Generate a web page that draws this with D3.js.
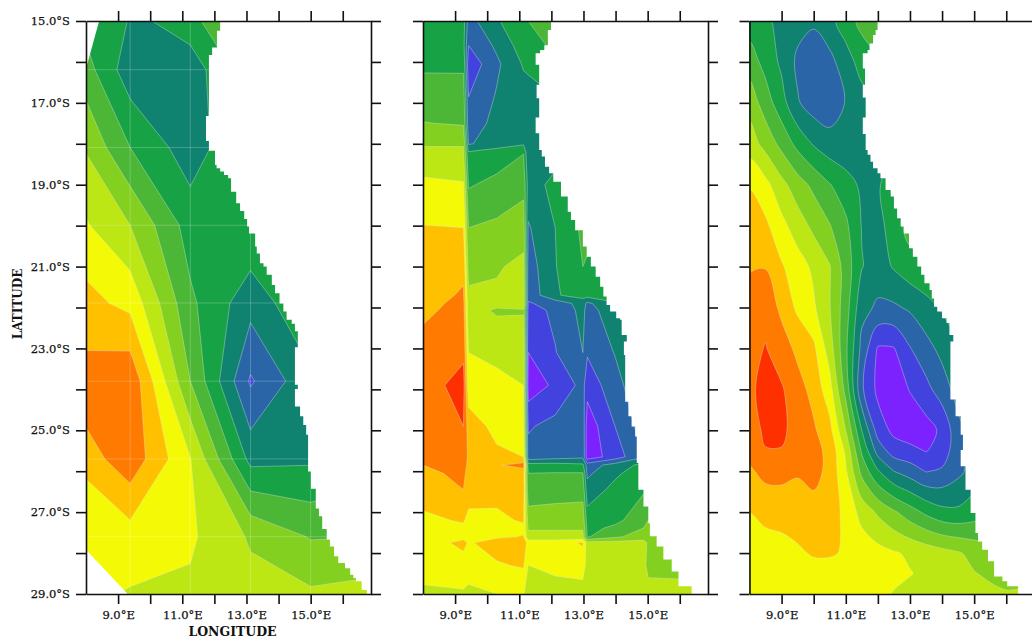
<!DOCTYPE html>
<html>
<head>
<meta charset="utf-8">
<style>
  html, body { margin: 0; padding: 0; background: #fff; overflow: hidden; }
  text { font-family: "DejaVu Serif", serif; fill: #111; }
</style>
<script src="https://d3js.org/d3.v7.min.js"></script>
</head>
<body>
<script>
// contour bands, coolest first
var levels = [0, 1, 2, 3, 4, 5, 6, 7, 8, 9, 10, 11];
var bandColors = ['#7b22ff', '#4242de', '#2a65a8', '#108270', '#18a246', '#4cb636',
  '#84d020', '#bce614', '#f4fa06', '#ffc000', '#ff7a00', '#ff3000'];

var lonTicks = [9, 10, 11, 12, 13, 14, 15, 16];
var lonLabels = [9, 11, 13, 15];
var latTicks = [15, 16, 17, 18, 19, 20, 21, 22, 23, 24, 25, 26, 27, 28, 29];
var latLabels = [15, 17, 19, 21, 23, 25, 27, 29];

// left panel, coarse grid
var lons1 = [7.5, 9.375, 11.25, 13.125, 15, 16.875];
var lats1 = [14.28, 16.19, 18.09, 19.99, 21.89, 23.8, 25.7, 27.6, 29.5];
var grid1 = [
  [5.0, 4.15, 5.3, 6.2, 6.0, 6],
  [6.13, 3.4, 3.4, 5.7, 5.5, 5.5],
  [7.52, 5.0, 3.45, 5.1, 4.8, 5],
  [8.5, 7.0, 4.55, 4.87, 4.7, 5],
  [9.51, 8.72, 5.2, 3.38, 4.9, 5],
  [10.32, 10.8, 6.0, 1.87, 3.8, 4.5],
  [9.07, 10.67, 8.05, 3.68, 3.83, 4.5],
  [8.04, 8.54, 8.16, 6.88, 5.93, 6],
  [8.1, 7.7, 7.7, 7.5, 7.6, 7.9]
];
var coastLats1 = [15, 15.24, 15.65, 15.83, 17.32, 17.93, 18.17, 18.52, 18.6, 18.68, 18.76, 18.84, 19.17, 19.45, 19.64, 19.84, 20.02, 20.19, 20.51, 20.68, 20.92, 21, 21.2, 21.45, 21.65, 21.9, 22.1, 22.3, 22.4, 22.58, 22.97, 23.89, 23.99, 24.42, 24.66, 24.87, 25.11, 26.01, 26.43, 26.91, 27.1, 27.41, 27.67, 27.84, 28.08, 28.24, 28.37, 28.53, 28.61, 28.69, 28.9, 29];
var coastLons1 = [12.18, 12.08, 11.93, 11.83, 11.74, 11.83, 12.02, 12.07, 12.18, 12.3, 12.43, 12.52, 12.68, 12.8, 12.93, 13.02, 13.08, 13.27, 13.32, 13.42, 13.53, 13.63, 13.79, 13.89, 14.03, 14.15, 14.25, 14.41, 14.51, 14.6, 14.51, 14.6, 14.51, 14.67, 14.77, 14.86, 14.92, 15.01, 15.16, 15.26, 15.36, 15.5, 15.6, 15.73, 15.86, 16.07, 16.23, 16.33, 16.41, 16.59, 16.75, 16.75];
// corners with no data in the left panel
var gapLons = [[8, 8.41, 8], [8, 9.3, 8]];
var gapLats = [[15, 15, 16.16], [27.92, 29, 29]];

// middle panel, tiles with sharp jumps between columns
var lons2 = [7.88, 9.26, 9.42, 10.3, 11.13, 11.28, 12.12, 12.98, 13.12, 13.98, 14.87, 15.02, 16.94];
var lats2 = [15, 15.6, 16.05, 16.85, 17.5, 18, 18.2, 19, 20.05, 21, 21.7, 21.9, 22.07, 23.1, 23.9, 24.9, 25.65, 25.85, 26.05, 26.45, 27.2, 27.39, 27.6, 27.75, 28.3, 29];
var grid2 = [
  [4.6, 4.4, 2.6, 3.9, 4.7, 5.0, 5.8, 6, 6, 6, 6, 6, 6],
  [4.5, 4.3, 2.0, 3.2, 4.5, 4.6, 5.2, 5.5, 5.5, 5.5, 5.5, 5.5, 5.5],
  [4.85, 4.8, 1.3, 2.8, 4.1, 4.2, 4.5, 5, 5, 5, 5, 5, 5],
  [5.4, 5.5, 2.0, 3.1, 3.6, 3.6, 4, 4.3, 4.5, 4.5, 4.5, 4.5, 4.5],
  [6.05, 5.9, 2.3, 3.4, 3.7, 3.0, 4, 4.3, 4.5, 4.5, 4.5, 4.5, 4.5],
  [6.95, 6.95, 2.9, 3.5, 3.85, 3.0, 3.6, 4, 4.5, 4.5, 4.5, 4.5, 4.5],
  [7.1, 7.1, 4.05, 4.4, 4.95, 3.1, 3.65, 4.05, 4.5, 4.5, 4.5, 4.5, 4.5],
  [8.3, 8.1, 4.9, 5.3, 5.7, 3.6, 4.25, 4.8, 5, 5, 5, 5, 5],
  [9.05, 9.0, 6.0, 6.2, 6.55, 2.9, 4.0, 5.2, 5.5, 5.5, 5.5, 5.5, 5.5],
  [9.6, 9.8, 6.6, 6.9, 7.25, 2.5, 3.95, 5.0, 4.8, 4.5, 4.5, 4.5, 4.5],
  [9.6, 10.1, 7.2, 7.15, 7.55, 2.3, 3.9, 4.4, 4.4, 4.5, 4.5, 4.5, 4.5],
  [9.6, 10.3, 7.5, 7.2, 7.6, 1.9, 2.4, 3.4, 2.8, 3.9, 4.3, 4.5, 4.5],
  [9.7, 10.4, 7.3, 6.9, 6.9, 1.6, 2.2, 3.3, 2.6, 3.6, 4.2, 4.5, 4.5],
  [10.4, 10.8, 8.0, 7.65, 7.8, 1.0, 1.95, 3.0, 2.1, 3.05, 4.1, 4.5, 4.5],
  [10.45, 11.4, 8.4, 8.4, 8.0, 0.4, 1.2, 2.3, 1.4, 2.6, 3.9, 4.5, 4.5],
  [10.5, 11, 9.5, 8.7, 8.3, 1.9, 2.3, 2.7, 0.4, 2.0, 3.5, 4, 4.5],
  [10.3, 10.6, 9.8, 9.2, 9.0, 2.3, 2.6, 2.8, 0.4, 1.5, 2.9, 3, 4],
  [9.95, 10.5, 9.7, 9.9, 10.4, 4.4, 4.4, 4.2, 2.5, 3.4, 4.3, 4.5, 4.5],
  [9.7, 10.25, 9.6, 9.5, 9.4, 5.0, 5.05, 5.05, 2.8, 3.8, 4.6, 4.7, 4.7],
  [9.45, 10.0, 9.5, 9.3, 9.5, 5.3, 5.5, 5.6, 3.4, 4.3, 4.9, 5, 5],
  [8.75, 9.1, 8.7, 8.8, 9.1, 6.6, 6.6, 6.6, 4.5, 4.75, 5.6, 6, 6],
  [8.6, 8.8, 8.4, 8.5, 8.8, 6.9, 6.9, 6.9, 4.7, 5.2, 6, 6.2, 6.2],
  [8.5, 8.7, 8.5, 8.85, 9.05, 7.3, 7.3, 7.3, 4.9, 5.8, 6.5, 6.5, 6.5],
  [8.3, 9.3, 8.9, 9.4, 9.6, 8.6, 8.6, 9.1, 7.5, 7.4, 7.4, 6.8, 6.5],
  [8.4, 8.5, 8.6, 8.9, 9.1, 8.0, 8.3, 8.5, 7.6, 7.4, 7.3, 6.7, 6.5],
  [7.8, 7.9, 7.7, 8.0, 8.1, 7.5, 7.5, 7.5, 7.4, 7.4, 7.2, 7.4, 7.45]
];
var coastLats2 = [15, 15.22, 15.59, 15.71, 15.79, 16.07, 16.56, 16.89, 17.36, 17.74, 18.15, 18.31, 18.56, 18.72, 18.93, 19.29, 19.66, 19.86, 20.11, 20.51, 20.76, 21, 21.25, 21.49, 21.73, 21.94, 22.1, 22.26, 22.3, 22.67, 22.83, 23.16, 24.3, 24.66, 24.91, 25.15, 25.8, 26.45, 26.86, 27.27, 27.59, 27.84, 28.16, 28.45, 28.81, 29];
var coastLons2 = [11.99, 11.89, 11.78, 11.65, 11.51, 11.62, 11.54, 11.62, 11.51, 11.62, 11.7, 11.8, 11.93, 12.06, 12.3, 12.51, 12.61, 12.74, 12.98, 13.1, 13.23, 13.38, 13.52, 13.62, 13.72, 13.83, 14.02, 14.14, 14.19, 14.35, 14.26, 14.3, 14.4, 14.5, 14.61, 14.66, 14.71, 14.87, 15.02, 15.07, 15.28, 15.49, 15.75, 15.96, 16.37, 16.37];

// right panel, smooth field
var lons3 = [8, 8.5, 9, 9.5, 10, 10.5, 11, 11.5, 12, 12.5, 13, 13.5, 14, 14.5, 15, 16, 17];
var lats3 = [15, 16, 17, 18, 19, 20, 21, 22, 23, 24, 25, 25.5, 26, 27, 28, 28.5, 29];
var grid3 = [
  [4.5, 4.2, 3.7, 3.35, 3.15, 3.7, 4.5, 5.3, 5.8, 6, 6, 6, 6, 6, 6, 6, 6],
  [5.5, 4.65, 3.8, 2.8, 2.4, 2.7, 3.55, 4.4, 4.8, 5, 5, 5, 5, 5, 5, 5, 5],
  [6.6, 5.5, 4.4, 3.1, 2.5, 2.4, 3.05, 3.6, 3.9, 4.2, 4.5, 4.5, 4.5, 4.5, 4.5, 4.5, 4.5],
  [7.5, 6.65, 5.7, 4.7, 3.9, 3.4, 3.2, 3.3, 3.6, 3.8, 4, 4, 4, 4, 4, 4, 4],
  [8.9, 8.3, 7.3, 6.45, 5.75, 5.05, 4.45, 3.8, 3.9, 4.5, 5, 5, 5, 5, 5, 5, 5],
  [9.7, 9.2, 8.3, 7.5, 6.75, 6.05, 5.2, 3.95, 3.65, 4.5, 5.4, 5.5, 5.5, 5.5, 5.5, 5.5, 5.5],
  [9.9, 9.95, 9.1, 8.45, 7.8, 7.05, 5.55, 4.05, 3.5, 4.1, 4.6, 4.8, 5, 5, 5, 5, 5],
  [10.5, 10.7, 9.75, 8.8, 8.15, 7.05, 5.45, 3.3, 2.85, 2.85, 3.15, 3.65, 4.1, 4.5, 5, 5, 5],
  [10.7, 11.05, 10.5, 9.75, 9.2, 7.5, 5.2, 2.7, 0.9, 0.95, 1.95, 2.65, 3.3, 3.9, 4.3, 4.5, 4.5],
  [10.7, 11.5, 11.1, 10.4, 9.65, 8.4, 5.65, 2.15, 0.75, 0.5, 1.05, 1.7, 2.5, 3.4, 4, 4.5, 4.5],
  [10.5, 11.2, 11.2, 10.6, 10.15, 9.3, 7, 4, 1.55, 0.75, 0.4, 0.6, 1.2, 2.7, 3.6, 4.5, 4.5],
  [10.3, 10.95, 10.95, 10.4, 10.3, 9.75, 7.8, 4.85, 2.6, 1.5, 1.3, 0.95, 1.4, 2.7, 3.5, 4.2, 4.5],
  [9.85, 10.3, 10.3, 10.1, 10.35, 9.7, 8.15, 5.7, 4.1, 3, 2.5, 1.95, 2.15, 2.75, 3.4, 4, 4.5],
  [9, 9.3, 9.4, 9.5, 9.6, 9.45, 8.75, 7.65, 6.85, 6.15, 5.45, 4.8, 4.3, 4.2, 4.5, 5, 5.5],
  [8.2, 8.5, 8.6, 8.85, 9.1, 9.1, 8.9, 8.6, 8.35, 8.1, 7.85, 7.6, 7.35, 7.1, 6.7, 6.2, 6],
  [8.5, 8.55, 8.6, 8.6, 8.6, 8.6, 8.55, 8.45, 8.35, 8.2, 8.05, 7.8, 7.45, 7.15, 7.05, 6.6, 6.5],
  [8.3, 8.3, 8.3, 8.3, 8.3, 8.3, 8.35, 8.3, 8.2, 7.95, 7.7, 7.6, 7.5, 7.4, 7.3, 7.1, 7.4]
];
var coastLats3 = [15, 15.22, 15.34, 15.55, 15.71, 15.79, 16.16, 16.56, 16.87, 17.36, 17.76, 18.15, 18.27, 18.44, 18.6, 18.72, 18.84, 19.13, 19.29, 19.58, 19.82, 20.02, 20.19, 20.55, 20.76, 21, 21.2, 21.41, 21.57, 21.78, 21.98, 22.1, 22.26, 22.38, 22.67, 22.83, 24.25, 24.66, 25.11, 25.48, 25.88, 26.45, 27.02, 27.51, 27.72, 27.92, 28.2, 28.57, 28.69, 28.81, 29];
var coastLons3 = [11.99, 11.93, 11.85, 11.74, 11.68, 11.53, 11.6, 11.53, 11.62, 11.53, 11.62, 11.68, 11.77, 11.85, 11.99, 12.08, 12.24, 12.4, 12.5, 12.6, 12.71, 12.81, 12.97, 13.09, 13.23, 13.35, 13.45, 13.61, 13.68, 13.75, 13.85, 14, 14.14, 14.23, 14.35, 14.26, 14.42, 14.58, 14.65, 14.58, 14.73, 14.89, 15.04, 15.12, 15.25, 15.43, 15.62, 15.88, 16.03, 16.37, 16.37];

var width = 1032;
var height = 640;
var panelWidth = 285;

var svg = d3.select('body')
  .append('svg')
  .attr('width', width)
  .attr('height', height);

var y = d3.scaleLinear().domain([15, 29]).range([21, 594]);

function drawPanel(id, left, lons, lats, grid, curve, coastLats, coastLons, labelled) {
  var x = d3.scaleLinear().domain([8, 16.88]).range([left, left + panelWidth]);
  var panel = svg.append('g');

  panel.append('clipPath').attr('id', id)
    .append('rect')
    .attr('x', left).attr('y', 21)
    .attr('width', panelWidth).attr('height', 573);

  var plot = panel.append('g').attr('clip-path', 'url(#' + id + ')');

  // d3.contours puts value i at i + 0.5, the grid is not even so map through these
  var lonAt = d3.scaleLinear().domain(d3.range(lons.length)).range(lons);
  var latAt = d3.scaleLinear().domain(d3.range(lats.length)).range(lats);
  var ringLine = d3.line()
    .x(function(p) { return x(lonAt(p[0] - 0.5)); })
    .y(function(p) { return y(latAt(p[1] - 0.5)); })
    .curve(curve);

  var contours = d3.contours()
    .size([lons.length, lats.length]);
  var values = d3.merge(grid);

  plot.selectAll('path.band')
    .data(levels)
    .enter()
    .append('path')
    .attr('class', 'band')
    .attr('fill', function(d) { return bandColors[d]; })
    .attr('fill-rule', 'evenodd')
    .attr('stroke', '#dfe8d8')
    .attr('stroke-opacity', 0.55)
    .attr('stroke-width', 0.7)
    .attr('d', function(d) {
      var shape = contours.contour(values, d);
      return shape.coordinates.map(function(poly) {
        return poly.map(function(ring) { return ringLine(ring.slice(0, -1)); }).join('');
      }).join('');
    });

  // the coast, everything east of it is land
  var coast = d3.range(coastLats.length);
  plot.append('path')
    .attr('fill', '#fff')
    .attr('d', d3.area()
      .curve(d3.curveStepBefore)
      .y(function(i) { return y(coastLats[i]); })
      .x0(function(i) { return x(coastLons[i]); })
      .x1(left + panelWidth + 5)(coast));

  panel.append('g')
    .attr('transform', 'translate(0,21)')
    .call(d3.axisTop(x).tickValues(lonTicks).tickSize(10).tickSizeOuter(0).tickFormat(''));
  panel.append('g')
    .attr('transform', 'translate(0,594)')
    .call(d3.axisBottom(x).tickValues(lonTicks).tickSize(10).tickSizeOuter(0).tickPadding(7)
      .tickFormat(function(d) { return lonLabels.indexOf(d) >= 0 ? d.toFixed(1) + '°E' : ''; }));
  panel.append('g')
    .attr('transform', 'translate(' + left + ',0)')
    .call(d3.axisLeft(y).tickValues(latTicks).tickSize(10).tickSizeOuter(0).tickPadding(6)
      .tickFormat(function(d) { return labelled && latLabels.indexOf(d) >= 0 ? d.toFixed(1) + '°S' : ''; }));
  panel.append('g')
    .attr('transform', 'translate(' + (left + panelWidth) + ',0)')
    .call(d3.axisRight(y).tickValues(latTicks).tickSize(10).tickSizeOuter(0).tickFormat(''));

  panel.selectAll('.domain, .tick line').attr('stroke', '#111').attr('stroke-width', 1.6);
  panel.selectAll('.tick text')
    .attr('font-family', '"DejaVu Serif", serif')
    .attr('font-size', 11.5)
    .attr('fill', '#111')
    .attr('stroke', '#111')
    .attr('stroke-width', 0.25);
  return { plot: plot, x: x };
}

var left = drawPanel('p1', 86, lons1, lats1, grid1, d3.curveLinearClosed, coastLats1, coastLons1, true);
drawPanel('p2', 423, lons2, lats2, grid2, d3.curveLinearClosed, coastLats2, coastLons2, false);
drawPanel('p3', 749.5, lons3, lats3, grid3, d3.curveCatmullRomClosed, coastLats3, coastLons3, false);

// pale seams along the coarse grid and the no data corners, left panel only
var seams = left.plot.insert('g', 'path:nth-of-type(13)');
seams.selectAll('line.lon')
  .data(lons1)
  .enter()
  .append('line')
  .attr('x1', function(d) { return left.x(d); })
  .attr('x2', function(d) { return left.x(d); })
  .attr('y1', 21).attr('y2', 594);
seams.selectAll('line.lat')
  .data(lats1)
  .enter()
  .append('line')
  .attr('class', 'lat')
  .attr('x1', 86).attr('x2', 371)
  .attr('y1', function(d) { return y(d); })
  .attr('y2', function(d) { return y(d); });
seams.selectAll('line').attr('stroke', '#fff').attr('stroke-opacity', 0.22).attr('stroke-width', 1);

var gapLine = d3.line()
  .x(function(i) { return i[0]; })
  .y(function(i) { return i[1]; });
left.plot.selectAll('path.gap')
  .data(gapLons)
  .enter()
  .append('path')
  .attr('class', 'gap')
  .attr('fill', '#fff')
  .attr('d', function(d, n) {
    return gapLine(d.map(function(lon, i) { return [left.x(lon), y(gapLats[n][i])]; })) + 'Z';
  });

svg.append('text')
  .attr('x', 232.5).attr('y', 636)
  .attr('text-anchor', 'middle')
  .attr('font-size', 12.5)
  .attr('font-weight', 'bold')
  .text('LONGITUDE');
svg.append('text')
  .attr('transform', 'translate(22,304) rotate(-90)')
  .attr('text-anchor', 'middle')
  .attr('font-size', 12)
  .attr('font-weight', 'bold')
  .text('LATITUDE');
</script>
</body>
</html>
